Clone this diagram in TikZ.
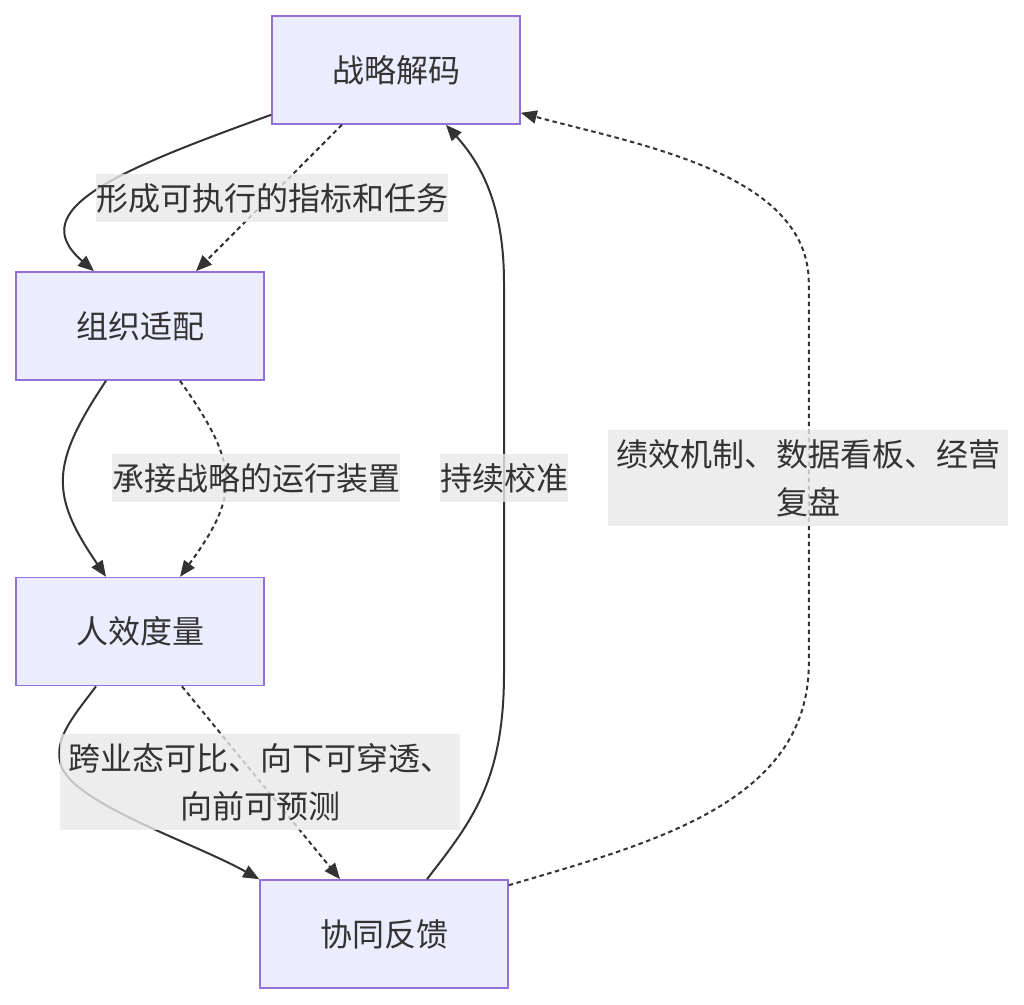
\documentclass[tikz,border=0pt]{standalone}
\usepackage{fontspec}
\setmainfont{Noto Sans CJK SC}
\usepackage{tikz}
\usetikzlibrary{positioning,arrows.meta}
\definecolor{nodefill}{HTML}{ECECFF}
\definecolor{nodeline}{HTML}{9370DB}
\definecolor{edgeline}{HTML}{333333}
\definecolor{lblfill}{HTML}{E8E8E8}
\newcommand{\lblstrut}{\rule[-11.8pt]{0pt}{48pt}}
\tikzset{
  box/.style={draw=nodeline, line width=1.6pt, fill=nodefill, minimum width=248pt, minimum height=108pt,
    text=edgeline, font=\fontsize{32}{48}\selectfont},
  flow/.style={-{Triangle[length=16pt,width=13pt]}, line width=2pt, draw=edgeline},
  dflow/.style={flow, dash pattern=on 4.5pt off 3.5pt},
  lbl/.style={fill=lblfill, fill opacity=0.8, text opacity=1, text=edgeline, inner sep=0pt, align=center,
    font=\fontsize{32}{48}\selectfont, execute at begin node=\lblstrut, execute at end node=\lblstrut},
}

\begin{document}
\begin{tikzpicture}[x=1pt, y=1pt]
  \useasboundingbox (0,0) rectangle (1024,1004);
  % stages
  \node[box] (decode) at (396,934) {战略解码};
  \node[box] (org) at (140,678) {组织适配};
  \node[box, below=196pt of org] (measure) {人效度量};
  \node[box] (feedback) at (384,70) {协同反馈};
  % links
  \draw[flow] ([yshift=10pt]decode.south west) .. controls +(-152,-55) and +(-72,62) .. ([xshift=-46pt]org.north);
  \draw[dflow] ([xshift=-54pt]decode.south) -- ([xshift=56pt]org.north);
  \draw[flow] ([xshift=-34pt]org.south) .. controls +(-56,-84) and +(-56,82) .. ([xshift=-34pt]measure.north);
  \draw[dflow] ([xshift=40pt]org.south) .. controls +(60,-84) and +(60,82) .. ([xshift=40pt]measure.north);
  \draw[flow] ([xshift=-44pt]measure.south) .. controls +(-21,-28) and +(-5,25) .. ++(-36,-75)
    .. controls +(6,-40) and +(-68,38) .. (feedback.north west);
  \draw[dflow] ([xshift=42pt]measure.south) -- ([xshift=-44pt]feedback.north);
  \draw[flow] ([xshift=43pt]feedback.north) .. controls +(43,56) and +(0,-110) .. ++(77,206) -- ++(0,390)
    .. controls +(0,80) and +(34,-38) .. ([xshift=50pt]decode.south);
  \draw[dflow] ([yshift=-6pt]feedback.north east) .. controls +(142,42) and +(0,-140) .. ++(300,222) -- ++(0,380)
    .. controls +(0,110) and +(118,-32) .. ([yshift=12pt]decode.south east);
  % edge labels
  \node[lbl] (tasks) at (272,806) {形成可执行的指标和任务};
  \node[lbl] (engine) at (256,526) {承接战略的运行装置};
  \node[lbl, text width=400pt] (compare) at (260,222) {跨业态可比、向下可穿透、\\向前可预测};
  \node[lbl] (calib) at (504,526) {持续校准};
  \node[lbl, text width=400pt] (review) at (808,526) {绩效机制、数据看板、经营\\复盘};
\end{tikzpicture}
\end{document}
